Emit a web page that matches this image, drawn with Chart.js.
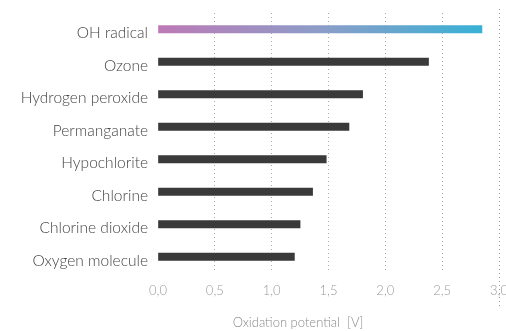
<!DOCTYPE html>
<html>
<head>
<meta charset="utf-8">
<script src="https://cdn.jsdelivr.net/npm/chart.js@4/dist/chart.umd.min.js"></script>
<style>
  html, body { margin: 0; padding: 0; background: #fff; }
  #box { width: 506px; height: 331px; }
</style>
</head>
<body>
<div id="box"><canvas id="myChart"></canvas></div>
<script>
// data
var labels = ['OH radical', 'Ozone', 'Hydrogen peroxide', 'Permanganate', 'Hypochlorite', 'Chlorine', 'Chlorine dioxide', 'Oxygen molecule'];
var potential = [2.85, 2.38, 1.80, 1.68, 1.48, 1.36, 1.25, 1.20];
var xTicks = [0, 0.5, 1, 1.5, 2, 2.5, 3];
var axisTitle = 'Oxidation potential  [V]';

var FONT = 'Lato, "Open Sans", sans-serif';

function barColor(ctx) {
  if (ctx.dataIndex !== 0) return '#3a3a3a';
  var chart = ctx.chart;
  var area = chart.chartArea;
  if (!area) return '#b87ab5';
  var x0 = chart.scales.x.getPixelForValue(0);
  var x1 = chart.scales.x.getPixelForValue(potential[0]);
  var g = chart.ctx.createLinearGradient(x0, 0, x1, 0);
  g.addColorStop(0, '#bd79b6');
  g.addColorStop(0.5, '#8c9dc8');
  g.addColorStop(1, '#38b1d5');
  return g;
}

// extra dotted line at 3,0 that runs down past the axis + the axis title (sits left of centre)
const extras = {
  id: 'extras',
  afterDraw(chart) {
    var c = chart.ctx;
    var x = Math.round(chart.scales.x.getPixelForValue(3)) + 0.5;
    c.save();
    c.strokeStyle = '#999';
    c.lineWidth = 1;
    c.setLineDash([1, 3]);
    c.beginPath();
    c.moveTo(x, 9);
    c.lineTo(x, 306);
    c.stroke();
    c.setLineDash([]);
    c.fillStyle = '#8a8a8a';
    c.font = '300 13px ' + FONT;
    c.textAlign = 'center';
    c.textBaseline = 'middle';
    c.fillText(axisTitle, 298, 323);
    c.restore();
  }
};

const config = {
  type: 'bar',
  data: {
    labels: labels,
    datasets: [{
      data: potential,
      backgroundColor: barColor,
      barThickness: 7.5,
      borderWidth: 0
    }]
  },
  plugins: [extras],
  options: {
    indexAxis: 'y',
    responsive: true,
    maintainAspectRatio: false,
    animation: false,
    layout: { padding: { top: 13, left: 0, right: 7, bottom: 0 } },
    plugins: {
      legend: { display: false },
      tooltip: { enabled: false }
    },
    scales: {
      x: {
        min: 0,
        max: 3,
        afterBuildTicks: function(scale) {
          scale.ticks = xTicks.map(function(v) { return { value: v }; });
        },
        afterFit: function(scale) {
          scale.paddingLeft = 0;
          scale.paddingRight = 0;
          scale.height = 58;
        },
        grid: {
          color: function(ctx) { return (ctx.index === 0 || ctx.index === 6) ? 'rgba(0,0,0,0)' : '#aaa'; },
          drawTicks: false,
          lineWidth: 1
        },
        border: { display: false, dash: [1, 3] },
        ticks: {
          padding: 10,
          color: '#9a9a9a',
          font: { family: FONT, size: 13, weight: '300' },
          maxRotation: 0,
          callback: function(v) { return Number(v).toFixed(1).replace('.', ','); }
        }
      },
      y: {
        afterFit: function(scale) { scale.width = 158; },
        grid: { display: false },
        border: { display: false },
        ticks: {
          padding: 2,
          labelOffset: 4,
          color: '#444',
          font: { family: FONT, size: 15.5, weight: '300' }
        }
      }
    }
  }
};

const myChart = new Chart(document.getElementById('myChart'), config);
</script>
</body>
</html>
